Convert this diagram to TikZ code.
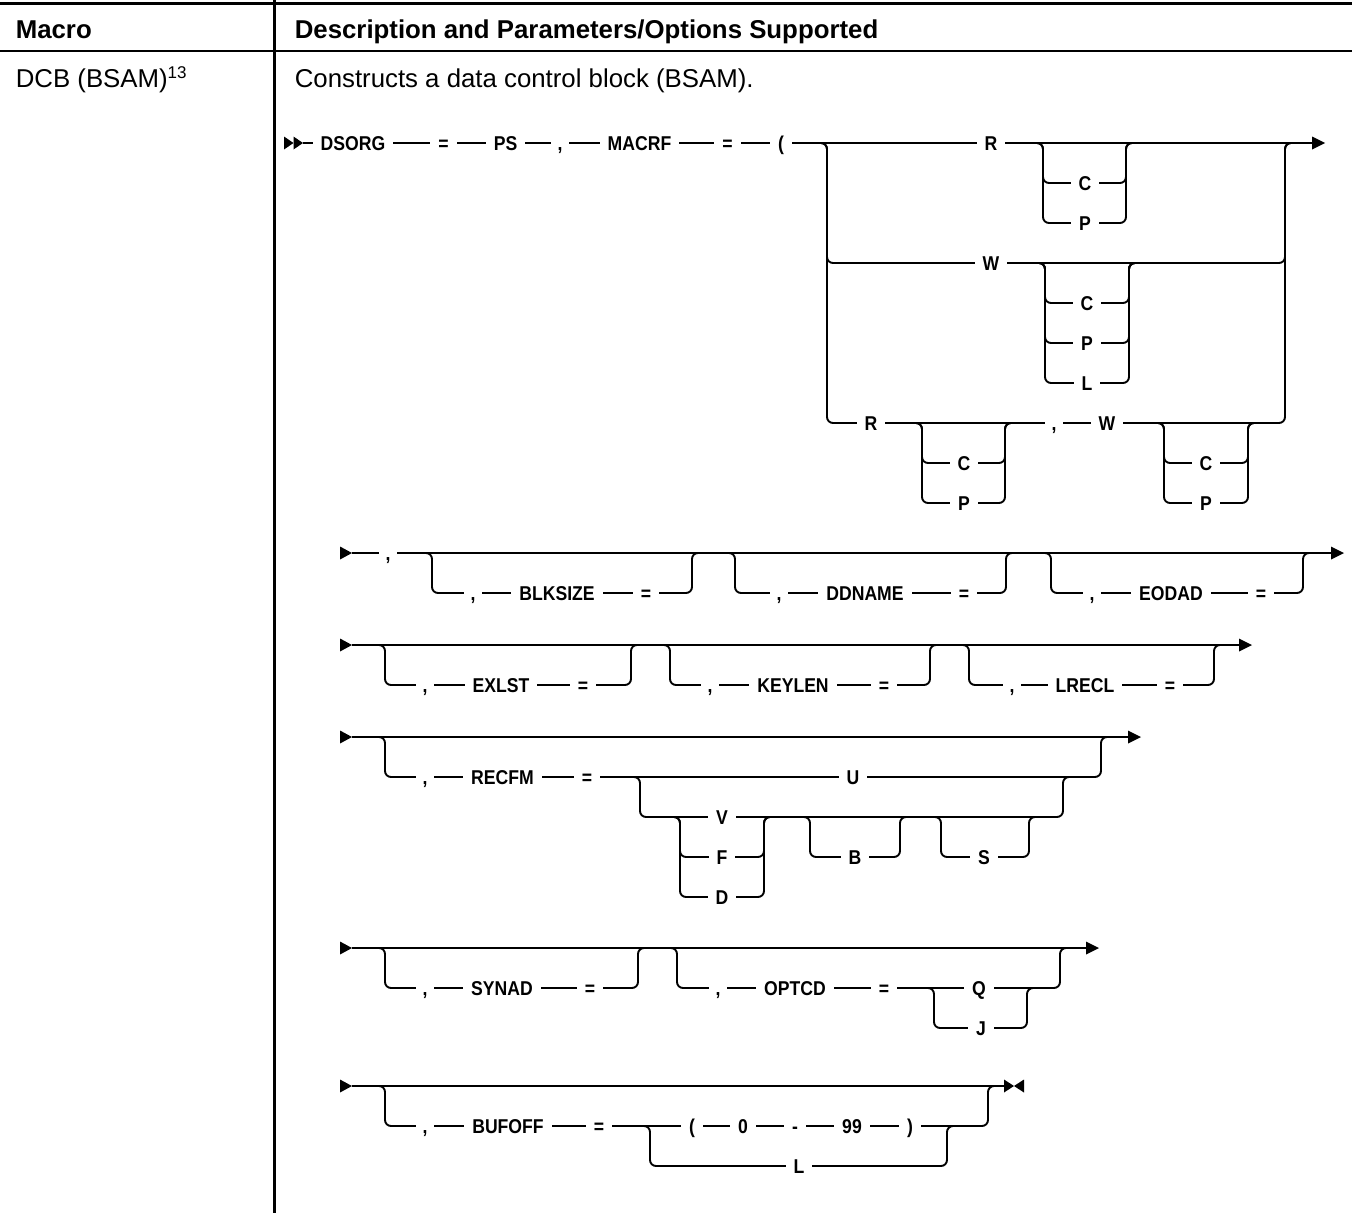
\documentclass[tikz,border=0pt]{standalone}
\usepackage{fontspec}
\setmainfont{Liberation Sans}
\newfontfamily\rrfont{Liberation Sans}[FakeStretch=0.88]
\usetikzlibrary{arrows.meta}
\newcommand\rrf{\rrfont\bfseries\fontsize{20}{20}\selectfont}
\newcommand\rrgrp[4]{\foreach \yy in {#4}{\draw[rr] (#1-10,#3) -- (#1,#3) -- (#1,\yy) -- (#2,\yy) -- (#2,#3) -- (#2+10,#3);}}
\newcommand\rrend[2]{\fill (#1-13,#2-6.5) -- (#1,#2) -- (#1-13,#2+6.5) -- cycle;}
\newcommand\rrstart[2]{\fill (#1,#2-6.5) -- (#1+12,#2) -- (#1,#2+6.5) -- cycle;}
\begin{document}
\begin{tikzpicture}[x=1pt,y=-1pt,
  rr/.style={line width=1.9pt, rounded corners=6pt},
  lb/.style={fill=white, inner xsep=8pt, inner ysep=0pt, text height=14.3pt, text depth=0pt, font=\rrf},
  lbc/.style={lb, inner xsep=7pt},
  hd/.style={anchor=base west, inner sep=0pt, font=\bfseries\fontsize{25.8}{27}\selectfont},
  bd/.style={anchor=base west, inner sep=0pt, font=\fontsize{25.8}{27}\selectfont}]
\useasboundingbox (0,0) rectangle (1352,1213);
% table
\draw[line width=3.5pt] (0,3.5) -- (1352,3.5);
\draw[line width=1.5pt] (0,51) -- (1352,51);
\draw[line width=2.5pt] (274.5,0) -- (274.5,1213);
\node[hd] (hmacro) at (15.6,38) {Macro};
\node[hd] (hdesc) at (294.6,38) {Description and Parameters/Options Supported};
\node[bd] (dcb) at (15.6,87) {DCB (BSAM)\raisebox{9pt}{\fontsize{17}{17}\selectfont 13}};
\node[bd] (constr) at (294.6,87) {Constructs a data control block (BSAM).};

% ---------- row 1
\fill (284,136.5) -- (293.5,143) -- (284,149.5) -- cycle;
\fill (293.5,136.5) -- (303,143) -- (293.5,149.5) -- cycle;
\draw[rr] (303,143) -- (1315,143);
\rrend{1325}{143}
\rrgrp{827}{1285}{143}{263,423}
\rrgrp{1043}{1126}{143}{183,223}
\rrgrp{1045}{1129}{263}{303,343,383}
\rrgrp{922}{1005}{423}{463,503}
\rrgrp{1164}{1248}{423}{463,503}
\node[lb] (dsorg) at (353,143) {DSORG};
\node[lb] (eq1) at (443.5,143) {=};
\node[lb] (ps) at (505.5,143) {PS};
\node[lbc] (cm1) at (560,143) {,};
\node[lb] (macrf) at (639.5,143) {MACRF};
\node[lb] (eq2) at (727.5,143) {=};
\node[lb] (lp1) at (781,143) {(};
\node[lb] (r1) at (991,143) {R};
\node[lb] (r1c) at (1085,183) {C};
\node[lb] (r1p) at (1085,223) {P};
\node[lb] (w1) at (991,263) {W};
\node[lb] (w1c) at (1087,303) {C};
\node[lb] (w1p) at (1087,343) {P};
\node[lb] (w1l) at (1087,383) {L};
\node[lb] (r3) at (871,423) {R};
\node[lb] (r3c) at (964,463) {C};
\node[lb] (r3p) at (964,503) {P};
\node[lbc] (cm3) at (1054,423) {,};
\node[lb] (w3) at (1107,423) {W};
\node[lb] (w3c) at (1206,463) {C};
\node[lb] (w3p) at (1206,503) {P};

% ---------- row 2
\rrstart{340}{553}
\draw[rr] (352,553) -- (1334,553);
\rrend{1344}{553}
\rrgrp{432}{692}{553}{593}
\rrgrp{735}{1006}{553}{593}
\rrgrp{1051}{1303}{553}{593}
\node[lbc] (cm20) at (388,553) {,};
\node[lbc] (cm21) at (473,593) {,};
\node[lb] (blk) at (557,593) {BLKSIZE};
\node[lb] (eq21) at (646,593) {=};
\node[lbc] (cm22) at (779,593) {,};
\node[lb] (ddn) at (865,593) {DDNAME};
\node[lb] (eq22) at (964,593) {=};
\node[lbc] (cm23) at (1092,593) {,};
\node[lb] (eod) at (1171,593) {EODAD};
\node[lb] (eq23) at (1261,593) {=};

% ---------- row 3
\rrstart{340}{645}
\draw[rr] (352,645) -- (1242,645);
\rrend{1252}{645}
\rrgrp{385}{631}{645}{685}
\rrgrp{670}{930}{645}{685}
\rrgrp{969}{1214}{645}{685}
\node[lbc] (cm31) at (425,685) {,};
\node[lb] (exl) at (501,685) {EXLST};
\node[lb] (eq31) at (583,685) {=};
\node[lbc] (cm32) at (710,685) {,};
\node[lb] (key) at (793,685) {KEYLEN};
\node[lb] (eq32) at (884,685) {=};
\node[lbc] (cm33) at (1012,685) {,};
\node[lb] (lre) at (1085,685) {LRECL};
\node[lb] (eq33) at (1170,685) {=};

% ---------- row 4
\rrstart{340}{737}
\draw[rr] (352,737) -- (1131,737);
\rrend{1141}{737}
\rrgrp{385}{1101}{737}{777}
\rrgrp{640}{1063}{777}{817}
\rrgrp{680}{764}{817}{857,897}
\rrgrp{810}{900}{817}{857}
\rrgrp{941}{1029}{817}{857}
\node[lbc] (cm41) at (425,777) {,};
\node[lb] (recfm) at (502.5,777) {RECFM};
\node[lb] (eq41) at (587,777) {=};
\node[lb] (u4) at (853,777) {U};
\node[lb] (v4) at (722,817) {V};
\node[lb] (f4) at (722,857) {F};
\node[lb] (d4) at (722,897) {D};
\node[lb] (b4) at (855,857) {B};
\node[lb] (s4) at (984,857) {S};

% ---------- row 5
\rrstart{340}{948}
\draw[rr] (352,948) -- (1089,948);
\rrend{1099}{948}
\rrgrp{385}{638}{948}{988}
\rrgrp{677}{1060}{948}{988}
\rrgrp{934}{1027}{988}{1028}
\node[lbc] (cm51) at (425,988) {,};
\node[lb] (syn) at (502,988) {SYNAD};
\node[lb] (eq51) at (590,988) {=};
\node[lbc] (cm52) at (718,988) {,};
\node[lb] (opt) at (795,988) {OPTCD};
\node[lb] (eq52) at (884,988) {=};
\node[lb] (q5) at (979,988) {Q};
\node[lb] (j5) at (981,1028) {J};

% ---------- row 6
\rrstart{340}{1086}
\draw[rr] (352,1086) -- (1004,1086);
\fill (1004,1079.5) -- (1014,1086) -- (1004,1092.5) -- cycle;
\fill (1024,1079.5) -- (1014,1086) -- (1024,1092.5) -- cycle;
\rrgrp{385}{988}{1086}{1126}
\rrgrp{650}{947}{1126}{1166}
\node[lbc] (cm61) at (425,1126) {,};
\node[lb] (buf) at (508,1126) {BUFOFF};
\node[lb] (eq61) at (599,1126) {=};
\node[lb] (lp6) at (692,1126) {(};
\node[lb] (z6) at (743,1126) {0};
\node[lb] (hy6) at (795,1126) {-};
\node[lb] (n99) at (852,1126) {99};
\node[lb] (rp6) at (910,1126) {)};
\node[lb] (l6) at (799,1166) {L};
\end{tikzpicture}
\end{document}
